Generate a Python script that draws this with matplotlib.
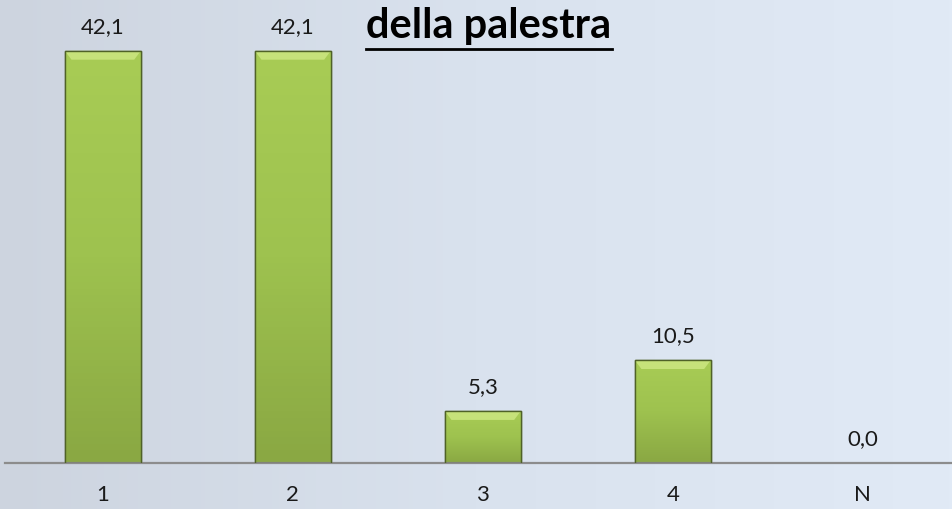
import matplotlib.pyplot as plt
import numpy as np
from matplotlib.colors import LinearSegmentedColormap

plt.rcParams["font.family"] = ["Lato", "DejaVu Sans"]

categories = ["1", "2", "3", "4", "N"]
values = [42.1, 42.1, 5.3, 10.5, 0.0]
value_labels = ["42,1", "42,1", "5,3", "10,5", "0,0"]
title_text = "della palestra"

W, H, DPI = 953, 510, 100
fig = plt.figure(figsize=(W / DPI, H / DPI), dpi=DPI)

# background gradient (grey-blue on the left, lighter blue on the right)
bg = fig.add_axes([0, 0, 1, 1])
bg_cmap = LinearSegmentedColormap.from_list("bg", ["#cdd4df", "#d9e2ee", "#e1eaf6"])
grad = np.tile(np.linspace(0, 1, 256), (2, 1))
bg.imshow(grad, cmap=bg_cmap, aspect="auto", extent=[0, 1, 0, 1])
bg.set_axis_off()

base_y = 464
ax = fig.add_axes([5 / W, 1 - base_y / H, 948 / W, base_y / H])
ax.patch.set_alpha(0)
x = np.arange(len(categories))
bars = ax.bar(x, values, width=0.4, color="#9bbb59", edgecolor="#4f6228", linewidth=1, zorder=2)

bar_cmap = LinearSegmentedColormap.from_list("bar", ["#8aa843", "#9ec24f", "#a8cc55"])
for b in bars:
    if b.get_height() <= 0:
        continue
    x0, w, h = b.get_x(), b.get_width(), b.get_height()
    im = ax.imshow(np.linspace(0, 1, 64).reshape(-1, 1), cmap=bar_cmap, aspect="auto",
                   extent=[x0, x0 + w, 0, h], origin="lower", zorder=2.5)
    im.set_clip_path(b)
    # lighter bevel at the top
    bev = min(0.9, h * 0.3)
    dx = 0.035
    ax.fill([x0, x0 + w, x0 + w - dx, x0 + dx], [h, h, h - bev, h - bev],
            color="#c6e27a", zorder=2.7, lw=0)
    ax.plot([x0, x0, x0 + w, x0 + w, x0], [0, h, h, 0, 0], color="#4f6228", lw=1, zorder=3)

for xi, v, lab in zip(x, values, value_labels):
    ax.annotate(lab, (xi, v), xytext=(0, 18), textcoords="offset points",
                ha="center", va="center", fontsize=16, color="#1a1a1a")

ax.set_xlim(-0.515, 4.475)
ax.set_ylim(0, 47.4)
ax.set_xticks(x)
ax.set_xticklabels(categories, fontsize=16, color="#1a1a1a")
ax.tick_params(axis="x", length=0, pad=15)
ax.set_yticks([])
for s in ["top", "right", "left"]:
    ax.spines[s].set_visible(False)
ax.spines["bottom"].set_color("#8c8c8c")
ax.spines["bottom"].set_linewidth(1.6)

title = fig.text(489 / W, 1 - 38 / H, title_text, ha="center", va="baseline",
                 fontsize=30, fontweight="bold", color="black")
# underline matched to the title's width
fig.canvas.draw()
tb = title.get_window_extent().transformed(fig.transFigure.inverted())
fig.add_artist(plt.Line2D([tb.x0, tb.x1], [1 - 49.5 / H, 1 - 49.5 / H],
                          color="black", lw=2))

fig.savefig("out.png", dpi=DPI)
